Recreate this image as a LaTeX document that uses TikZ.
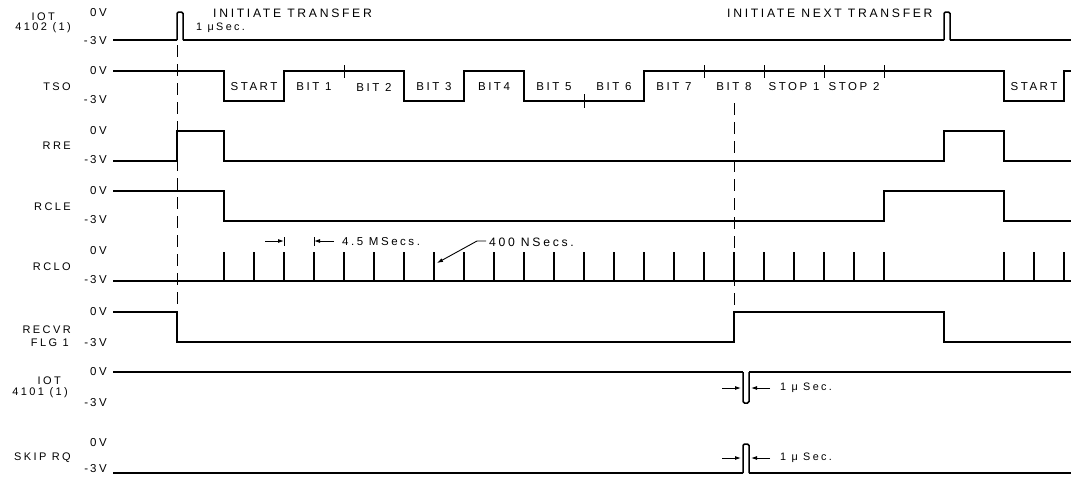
\documentclass[tikz,border=0pt]{standalone}
\usepackage{fontspec}
\setmainfont{Liberation Sans}
\newfontfamily\lblfont[LetterSpace=22]{Liberation Sans}
\usetikzlibrary{arrows.meta}
\begin{document}
\begin{tikzpicture}[x=1pt,y=-1pt,
  sig/.style={line width=1.5pt, line join=miter},
  sigpulse/.style={sig, rounded corners=1.5pt},
  guide/.style={line width=0.9pt, dash pattern=on 12pt off 7pt},
  sigtick/.style={line width=0.9pt},
  dimarrow/.style={line width=0.9pt, -{Latex[length=6pt,width=4pt]}},
  lbltxt/.style={font=\lblfont\fontsize{11.5}{12}\selectfont, inner sep=0pt},
  bigtxt/.style={font=\lblfont\fontsize{12.2}{13}\selectfont, inner sep=0pt},
  smalltxt/.style={font=\lblfont\fontsize{10.8}{12}\selectfont, inner sep=0pt},
  rowname/.style={font=\lblfont\fontsize{11}{12}\selectfont, inner sep=0pt, anchor=east, align=right},
  volt/.style={lbltxt, anchor=east},
  bitlbl/.style={lbltxt, anchor=center}
]
\useasboundingbox (0,0) rectangle (1073,477);

% ---------- left labels ----------
\node[rowname] (nIOTa) at (55,17) {IOT};
\node[rowname] (nIOTb) at (71,28) {4102 (1)};
\node[rowname] (nTSO) at (71,87) {TSO};
\node[rowname] (nRRE) at (71,146) {RRE};
\node[rowname] (nRCLE) at (71,207) {RCLE};
\node[rowname] (nRCLO) at (71,267) {RCLO};
\node[rowname] (nREC) at (71,330) {RECVR};
\node[rowname] (nFLG) at (69,343) {FLG 1};
\node[rowname] (nIOTc) at (61,381) {IOT};
\node[rowname] (nIOTd) at (68,393) {4101 (1)};
\node[rowname] (nSKIP) at (71,458) {SKIP RQ};

% ---------- voltage labels ----------
\foreach \n/\y in {a/13,b/71,c/131,d/191,e/251,f/312,g/372,h/443}
  \node[volt] (z\n) at (107,\y) {0V};
\foreach \n/\y in {a/41,b/100}
  \node[volt] (m\n) at (107,\y) {-3V};
\foreach \n/\y in {c/160,d/220,e/280,f/343,g/403,h/469}
  \node[volt] (m\n) at (107,\y) {-\hspace{2pt}3V};

% ---------- guides ----------
\draw[guide] (177,45) -- (177,312);
\draw[guide] (734,103) -- (734,312);

% ---------- IOT 4102(1) ----------
\draw[sig] (113,40) -- (177,40);
\draw[sigpulse] (177,40) -- (177,12) -- (183,12) -- (183,40);
\draw[sig] (183,40) -- (944,40);
\draw[sigpulse] (944,40) -- (944,12) -- (950,12) -- (950,40);
\draw[sig] (950,40) -- (1071,40);
\node[bigtxt, anchor=west] (tInit) at (213,13) {INITIATE TRANSFER};
\node[smalltxt, anchor=west] (tUs) at (196,28) {1 μSec.};
\node[bigtxt, anchor=west] (tNext) at (727,13) {INITIATE NEXT TRANSFER};

% ---------- TSO ----------
\draw[sig] (113,71) -- (224,71) -- (224,101) -- (284,101) -- (284,71)
  -- (404,71) -- (404,101) -- (464,101) -- (464,71) -- (524,71) -- (524,101)
  -- (644,101) -- (644,71) -- (1004,71) -- (1004,101) -- (1064,101) -- (1064,71) -- (1071,71);
\foreach \x in {344,704,764,824,884} \draw[sigtick] (\x,65) -- (\x,78);
\draw[sigtick] (584,94) -- (584,108);
\foreach \x/\t [count=\i] in {254/START,314/BIT 1,374/BIT 2,434/BIT 3,494/BIT4,554/BIT 5,614/BIT 6,674/BIT 7,734/BIT 8,794/STOP 1,854/STOP 2,1034/START}
  \node[bitlbl] (b\i) at (\x,87) {\t};

% ---------- RRE ----------
\draw[sig] (113,161) -- (177,161) -- (177,131) -- (224,131) -- (224,161)
  -- (944,161) -- (944,131) -- (1004,131) -- (1004,161) -- (1071,161);

% ---------- RCLE ----------
\draw[sig] (113,191) -- (224,191) -- (224,221) -- (884,221) -- (884,191)
  -- (1004,191) -- (1004,221) -- (1071,221);

% ---------- RCLO ----------
\draw[sig] (113,281) -- (1071,281);
\foreach \k in {0,...,22} \draw[sig] (224+30*\k,281) -- (224+30*\k,252);
\foreach \x in {1004,1034,1064} \draw[sig] (\x,281) -- (\x,252);
\draw[sigtick] (284,237) -- (284,246);
\draw[sigtick] (314,237) -- (314,246);
\coordinate (d1) at (265,241);
\coordinate (d2) at (284,241);
\coordinate (d3) at (334,241);
\coordinate (d4) at (314,241);
\draw[dimarrow] (d1) -- (d2);
\draw[dimarrow] (d3) -- (d4);
\node[lbltxt, anchor=west] (t45) at (342,242) {4.5 MSecs.};
\node[bigtxt, anchor=west] (t400) at (489,242) {400 NSecs.};
\coordinate (p400) at (437,263);
\draw[dimarrow] (t400.west) ++(-3,-1) -- ++(-9,0) -- (p400);

% ---------- RECVR FLG 1 ----------
\draw[sig] (113,312) -- (177,312) -- (177,342) -- (734,342) -- (734,312)
  -- (944,312) -- (944,342) -- (1071,342);

% ---------- IOT 4101(1) ----------
\draw[sig] (113,372) -- (743,372);
\draw[sigpulse] (743,372) -- (743,403) -- (749,403) -- (749,372);
\draw[sig] (749,372) -- (1071,372);
\coordinate (e1) at (722,388);
\coordinate (e2) at (741,388);
\coordinate (e3) at (770,388);
\coordinate (e4) at (751,388);
\draw[dimarrow] (e1) -- (e2);
\draw[dimarrow] (e3) -- (e4);
\node[smalltxt, anchor=west] (tUs2) at (780,388) {1 μ Sec.};

% ---------- SKIP RQ ----------
\draw[sig] (113,473) -- (743,473);
\draw[sigpulse] (743,473) -- (743,444) -- (749,444) -- (749,473);
\draw[sig] (749,473) -- (1071,473);
\coordinate (f1) at (722,458);
\coordinate (f2) at (741,458);
\coordinate (f3) at (770,458);
\coordinate (f4) at (751,458);
\draw[dimarrow] (f1) -- (f2);
\draw[dimarrow] (f3) -- (f4);
\node[smalltxt, anchor=west] (tUs3) at (780,458) {1 μ Sec.};
\end{tikzpicture}
\end{document}
